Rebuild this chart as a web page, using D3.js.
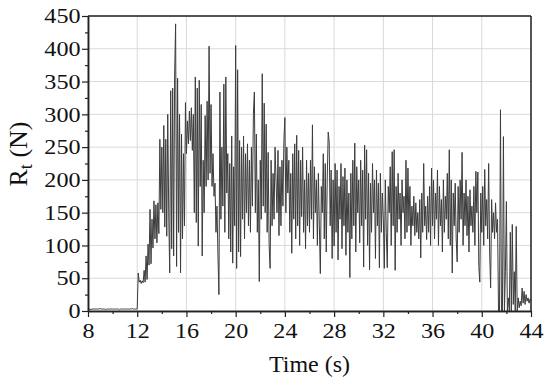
<!DOCTYPE html>
<html>
<head>
<meta charset="utf-8">
<script src="https://cdn.jsdelivr.net/npm/d3@7"></script>
<style>
  body { margin: 0; background: #fff; }
  text { font-family: "Liberation Serif", "Times New Roman", serif; fill: #111; }
</style>
</head>
<body>
<svg id="chart" width="550" height="386"></svg>
<script>
// Axis ticks
const xTicks = [8, 12, 16, 20, 24, 28, 32, 36, 40, 44];
const xMinor = [10, 14, 18, 22, 26, 30, 34, 38, 42];
const yTicks = [0, 50, 100, 150, 200, 250, 300, 350, 400, 450];
const yMinor = [25, 75, 125, 175, 225, 275, 325, 375, 425];

// Sampling of the force record (s)
const t0 = 8;
const dt = 0.08;

// Rt (N), one value every dt from t0
const baseline = [
  3,3,3,2,3,3,3,3,3,3, 3,3,4,3,3,3,3,3,2,3, 3,3,3,3,3,3,3,3,3,3,
  3,3,2,3,3,3,3,3,3,3, 3,3,3,3,3,4,3,3,3,3
];
const rise = [
  3,58,44,47,42, 46,43,62,44,84, 48,102,70,155,72, 140,96,168,110,162, 104,165,118,262,155,
  250,150,283,128,262, 114,300,150,58,336, 95,340,84,360,438, 68,355,120,300,58, 270,110,240,130,318,
  240,290,255,305,260, 310,245,300,150,357, 135,340,99,352,190, 315,84,230,150,298, 190,320,200,404,210,
  315,190,240,175,195, 120,160,85,25,334, 140,250,160,346,120, 357,180,240,110,225, 90,267,73,220,130,
  405,65,368,90,260, 83,250,140,267,110, 240,150,255,130,230, 120,250,160,300,334, 150,270,120,200,45,
  230,140,362,160,317, 150,285,120,242,100, 65,230,130,210,140, 250,200,150,245,115, 220,130,230,160,260
];
const steady = [
  295,150,250,180,230, 120,210,88,240,140, 255,110,268,130,245, 100,230,144,250,120, 200,95,230,130,210,
  120,230,140,284,110, 220,150,200,100,210, 130,57,190,150,240, 110,225,90,200,273, 258,130,215,80,200,
  99,225,120,215,78, 190,140,225,95,205, 130,218,85,200,120, 180,51,210,110,230, 130,256,90,220,150,
  200,104,230,130,215, 67,253,140,246,100, 210,63,195,120,225, 150,200,80,215,130, 195,66,210,120,180,
  140,65,200,120,66, 190,150,220,100,243, 130,246,62,190,120, 210,140,180,100,200, 150,175,110,230,120,
  218,130,190,100,160, 130,175,115,165,120, 150,110,170,81,180, 120,225,130,160,109, 175,120,190,100,218,
  130,200,110,180,140, 215,100,190,130,170, 90,200,120,175,140, 210,110,246,100,200, 58,180,130,195,110,
  75,190,120,200,140, 242,100,180,130,200, 115,175,90,185,130, 160,120,190,100,213, 150,212,68,44,180
];
const release = [
  120,190,100,216,130, 170,110,225,90,35, 170,120,150,110,165, 120,140,0,0,307, 0,0,266,0,60,
  167,0,20,0,120, 0,132,10,60,0, 129,0,20,5,15, 8,35,12,30,10, 25,15,20,12,18, 16
];
const force = baseline.concat(rise, steady, release);

const svg = d3.select("#chart");

const x = d3.scaleLinear().domain([8, 44]).range([88, 531]);
const y = d3.scaleLinear().domain([0, 450]).range([311, 16]);

// grid
svg.append("g")
  .selectAll("line")
  .data(xTicks)
  .enter()
  .append("line")
  .attr("x1", d => x(d)).attr("x2", d => x(d))
  .attr("y1", y(0)).attr("y2", y(450))
  .attr("stroke", "#d9d9d9").attr("stroke-width", 1);

svg.append("g")
  .selectAll("line")
  .data(yTicks)
  .enter()
  .append("line")
  .attr("x1", x(8)).attr("x2", x(44))
  .attr("y1", d => y(d)).attr("y2", d => y(d))
  .attr("stroke", "#d9d9d9").attr("stroke-width", 1);

// force trace
const line = d3.line()
  .x((d, i) => x(t0 + i * dt))
  .y(d => y(d));

svg.append("path")
  .datum(force)
  .attr("d", line)
  .attr("fill", "none")
  .attr("stroke", "#3c3c3c")
  .attr("stroke-width", 1)
  .attr("stroke-linejoin", "round");

// axes
svg.append("g")
  .attr("transform", `translate(0,${y(0)})`)
  .call(d3.axisBottom(x).tickValues(xTicks).tickSize(6).tickSizeOuter(0).tickPadding(6));
svg.append("g")
  .attr("transform", `translate(0,${y(0)})`)
  .call(d3.axisBottom(x).tickValues(xMinor).tickSize(3).tickSizeOuter(0).tickFormat(""));

const yAxis = svg.append("g")
  .attr("transform", `translate(${x(8)},0)`)
  .call(d3.axisLeft(y).tickValues(yTicks).tickSize(6).tickSizeOuter(0).tickPadding(0));
svg.append("g")
  .attr("transform", `translate(${x(8)},0)`)
  .call(d3.axisLeft(y).tickValues(yMinor).tickSize(3).tickSizeOuter(0).tickFormat(""));

svg.selectAll(".domain").attr("stroke", "#222").attr("stroke-width", 1.5);
svg.selectAll(".tick line").attr("stroke", "#222").attr("stroke-width", 1.2);
svg.selectAll(".tick text")
  .attr("font-family", "Liberation Serif, Times New Roman, serif")
  .attr("font-size", 21)
  .attr("fill", "#111")
  .attr("transform", "scale(1.15,1)");
yAxis.selectAll(".tick text").attr("x", -6.5);

// frame top and right
svg.append("line")
  .attr("x1", x(8)).attr("x2", x(44)).attr("y1", y(450)).attr("y2", y(450))
  .attr("stroke", "#222").attr("stroke-width", 1.5);
svg.append("line")
  .attr("x1", x(44)).attr("x2", x(44)).attr("y1", y(450)).attr("y2", y(0))
  .attr("stroke", "#222").attr("stroke-width", 1.5);

// axis titles
svg.append("text")
  .attr("x", (x(8) + x(44)) / 2)
  .attr("y", 372)
  .attr("text-anchor", "middle")
  .attr("font-size", 24)
  .text("Time (s)");

const yTitle = svg.append("text")
  .attr("transform", "translate(27,154) rotate(-90)")
  .attr("text-anchor", "middle")
  .attr("font-size", 26);
yTitle.append("tspan").text("R");
yTitle.append("tspan").attr("font-size", 18).attr("dy", 5).text("t");
yTitle.append("tspan").attr("dy", -5).text(" (N)");
</script>
</body>
</html>
